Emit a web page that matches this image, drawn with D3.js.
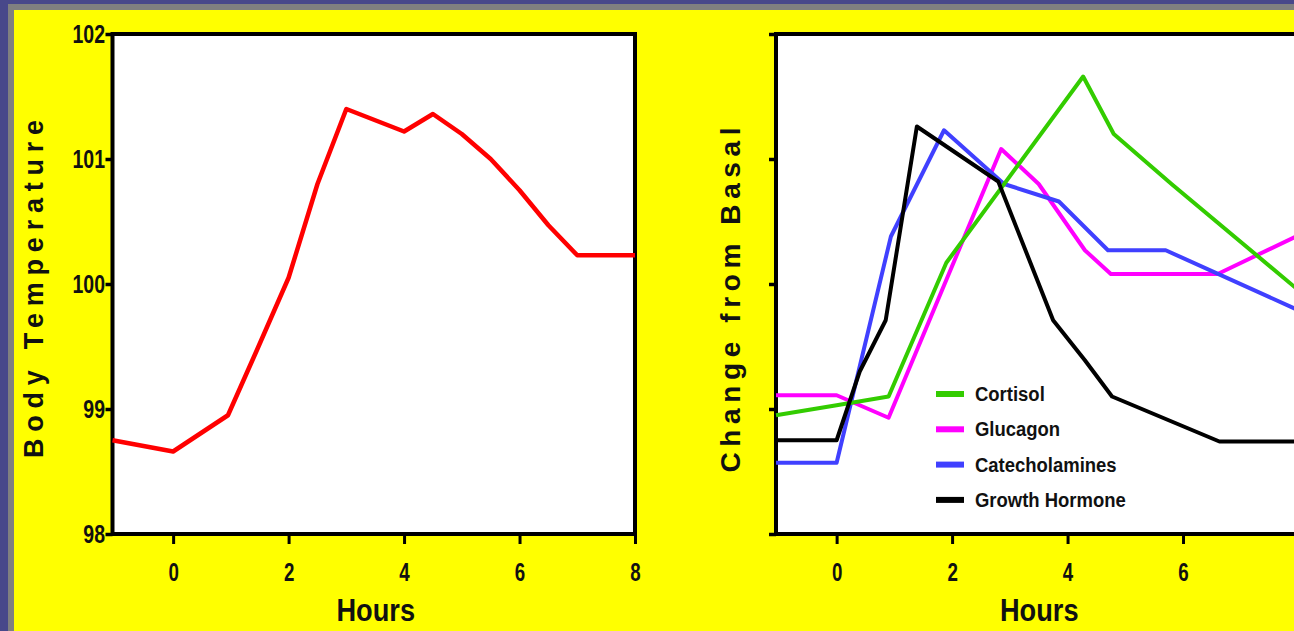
<!DOCTYPE html>
<html>
<head>
<meta charset="utf-8">
<script src="https://cdn.jsdelivr.net/npm/d3@7"></script>
<style>
  html, body { margin: 0; padding: 0; background: #48488a; overflow: hidden; }
  svg { display: block; }
  text { font-family: "Liberation Sans", Arial, "DejaVu Sans", sans-serif; font-weight: bold; fill: #111; }
</style>
</head>
<body>
<script>
// ---------- data ----------
const tempHours = [-1.05, 0, 0.95, 1.45, 2, 2.5, 3, 4, 4.5, 5, 5.5, 6, 6.5, 7, 8];
const tempValues = [98.75, 98.66, 98.95, 99.47, 100.05, 100.8, 101.4, 101.22, 101.36, 101.2, 101.0, 100.75, 100.47, 100.23, 100.23];

const cortisolHours = [-1.05, 0, 0.9, 1.9, 4.27, 4.8, 5.8, 8];
const cortisolValues = [0.95, 1.03, 1.1, 2.17, 3.66, 3.2, 2.8, 1.95];

const glucagonHours = [-1.05, 0, 0.9, 2.85, 3.5, 4.3, 4.75, 6.6, 8];
const glucagonValues = [1.11, 1.11, 0.93, 3.08, 2.8, 2.27, 2.08, 2.08, 2.39];

const catecholHours = [-1.05, 0, 0.94, 1.86, 2.9, 3.85, 4.7, 5.7, 8];
const catecholValues = [0.57, 0.57, 2.38, 3.23, 2.8, 2.66, 2.27, 2.27, 1.79];

const ghHours = [-1.05, 0, 0.4, 0.85, 1.39, 2.8, 3.75, 4.3, 4.77, 6.63, 8];
const ghValues = [0.75, 0.75, 1.3, 1.71, 3.26, 2.82, 1.71, 1.39, 1.1, 0.74, 0.74];

const xTicks = [0, 2, 4, 6, 8];
const tempTicks = [98, 99, 100, 101, 102];
const changeTicks = [0, 1, 2, 3, 4];
const seriesNames = ["Cortisol", "Glucagon", "Catecholamines", "Growth Hormone"];
const seriesColors = ["#33cc00", "#ff00ff", "#4040ff", "#000000"];

// ---------- canvas ----------
const W = 1294, H = 631;
const svg = d3.select("body").append("svg").attr("width", W).attr("height", H);
svg.append("rect").attr("x", 0).attr("y", 0).attr("width", W).attr("height", H).attr("fill", "#48488a");
svg.append("rect").attr("x", 8).attr("y", 4).attr("width", W).attr("height", H).attr("fill", "#808080");
svg.append("rect").attr("x", 14).attr("y", 10).attr("width", W).attr("height", H).attr("fill", "#ffff00");

function panel(opts) {
  const g = svg.append("g");
  const x = d3.scaleLinear().domain([-1.05, 8]).range([opts.left, opts.left + 522.5]);
  const y = d3.scaleLinear().domain(opts.yDomain).range([534, 34]);

  g.append("rect")
    .attr("x", x(-1.05)).attr("y", y(opts.yDomain[1]))
    .attr("width", x(8) - x(-1.05)).attr("height", y(opts.yDomain[0]) - y(opts.yDomain[1]))
    .attr("fill", "#fff").attr("stroke", "none");

  // y axis
  const ya = g.append("g").attr("transform", `translate(${x(-1.05)},0)`)
    .call(d3.axisLeft(y).tickValues(opts.yTicks).tickSize(7).tickPadding(10)
      .tickFormat(opts.yLabels ? d3.format("d") : () => ""));
  ya.select(".domain").remove();
  ya.selectAll(".tick line").attr("stroke", "#000").attr("stroke-width", 3.5);
  ya.selectAll(".tick text")
    .attr("x", -10).attr("dy", null).attr("y", 8)
    .attr("font-size", 26).attr("transform", "scale(0.75,1)");

  // x axis
  const xa = g.append("g").attr("transform", `translate(0,${y(opts.yDomain[0])})`)
    .call(d3.axisBottom(x).tickValues(xTicks).tickSize(10).tickFormat(d3.format("d")));
  xa.select(".domain").remove();
  xa.selectAll(".tick line").attr("stroke", "#000").attr("stroke-width", 3);
  xa.selectAll(".tick text")
    .attr("y", 47).attr("dy", null)
    .attr("font-size", 26).attr("transform", "scale(0.72,1)");

  // frame
  g.append("rect")
    .attr("x", x(-1.05)).attr("y", y(opts.yDomain[1]))
    .attr("width", x(8) - x(-1.05)).attr("height", y(opts.yDomain[0]) - y(opts.yDomain[1]))
    .attr("fill", "none").attr("stroke", "#000").attr("stroke-width", 4);

  // x title
  const cx = (x(-1.05) + x(8)) / 2 + 2;
  g.append("text").attr("transform", `translate(${cx},621) scale(0.85,1)`)
    .attr("text-anchor", "middle").attr("font-size", 32).text("Hours");

  // y title
  g.append("text")
    .attr("transform", `translate(${opts.yTitleX},${opts.yTitleY}) rotate(-90)`)
    .attr("text-anchor", "middle").attr("dominant-baseline", "central")
    .attr("font-size", opts.yTitleSize)
    .attr("textLength", opts.yTitleLen).attr("lengthAdjust", "spacing")
    .text(opts.yTitle);

  return { g, x, y };
}

// ---------- left panel ----------
const L = panel({ left: 112.5, yDomain: [98, 102], yTicks: tempTicks, yLabels: true,
  yTitle: "Body Temperature", yTitleX: 34, yTitleY: 289, yTitleLen: 338, yTitleSize: 27 });
const tempData = tempHours.map((h, i) => [h, tempValues[i]]);
L.g.append("path").datum(tempData)
  .attr("d", d3.line().x(d => L.x(d[0])).y(d => L.y(d[1])))
  .attr("fill", "none").attr("stroke", "#ff0000").attr("stroke-width", 4.5)
  .attr("stroke-linejoin", "round");

// ---------- right panel ----------
const R = panel({ left: 776, yDomain: [0, 4], yTicks: changeTicks, yLabels: false,
  yTitle: "Change from Basal", yTitleX: 730, yTitleY: 300, yTitleLen: 345, yTitleSize: 28 });
const seriesData = [
  cortisolHours.map((h, i) => [h, cortisolValues[i]]),
  glucagonHours.map((h, i) => [h, glucagonValues[i]]),
  catecholHours.map((h, i) => [h, catecholValues[i]]),
  ghHours.map((h, i) => [h, ghValues[i]])
];
const drawOrder = [1, 2, 0, 3];
drawOrder.forEach(k => {
  R.g.append("path").datum(seriesData[k])
    .attr("d", d3.line().x(d => R.x(d[0])).y(d => R.y(d[1])))
    .attr("fill", "none").attr("stroke", seriesColors[k]).attr("stroke-width", 4)
    .attr("stroke-linejoin", "round");
});

// legend
const leg = R.g.append("g");
seriesNames.forEach((name, i) => {
  const yy = 394 + i * 35.3;
  leg.append("line").attr("x1", 936).attr("x2", 964).attr("y1", yy).attr("y2", yy)
    .attr("stroke", seriesColors[i]).attr("stroke-width", 6);
  leg.append("text").attr("transform", `translate(975,${yy + 7}) scale(0.88,1)`)
    .attr("font-size", 21).attr("fill", "#222").text(name);
});
</script>
</body>
</html>
